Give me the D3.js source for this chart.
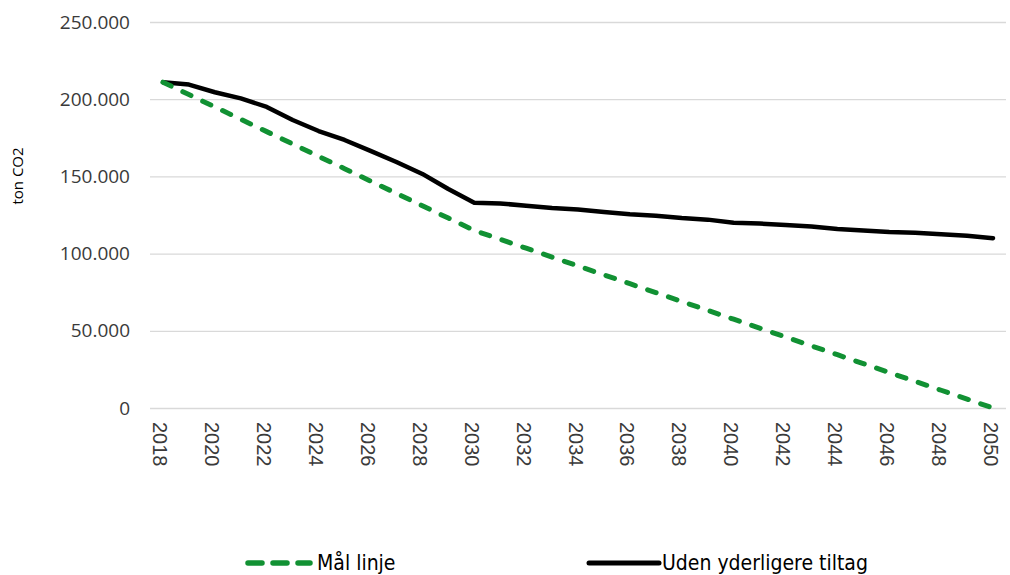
<!DOCTYPE html>
<html>
<head>
<meta charset="utf-8">
<script src="https://cdn.jsdelivr.net/npm/d3@7"></script>
<style>
  body { margin: 0; background: #fff; }
  svg { display: block; }
</style>
</head>
<body>
<svg id="chart"></svg>
<script>
var years = ["2018","2019","2020","2021","2022","2023","2024","2025","2026","2027","2028",
  "2029","2030","2031","2032","2033","2034","2035","2036","2037","2038","2039","2040",
  "2041","2042","2043","2044","2045","2046","2047","2048","2049","2050"];

// Mål linje (target line)
var maalLinje = [211000,203000,195000,187000,179000,171000,163000,155000,147000,139000,131000,
  123000,115000,109250,103500,97750,92000,86250,80500,74750,69000,63250,57500,
  51750,46000,40250,34500,28750,23000,17250,11500,5750,0];

// Uden yderligere tiltag
var udenTiltag = [211000,209500,204500,200500,195000,186500,179400,173600,166500,159300,151600,
  141800,133000,132500,131000,129500,128500,127000,125500,124500,123000,122000,120000,
  119500,118500,117500,116000,115000,114000,113500,112500,111500,110000];

var yTicks = [0,50000,100000,150000,200000,250000];
var seriesNames = ["Mål linje","Uden yderligere tiltag"];
var seriesColors = ["#119133","#000000"];

var width = 1010;
var height = 575;
var plotLeft = 150, plotRight = 1006, plotTop = 22, plotBottom = 408;

var svg = d3.select("#chart")
            .attr("width",width)
            .attr("height",height)

var x = d3.scalePoint()
          .domain(years)
          .range([plotLeft,plotRight])
          .padding(0.5);

var y = d3.scaleLinear()
          .domain([0,250000])
          .range([plotBottom,plotTop]);

var fmt = function(d){
  return d3.format(",")(d).replace(/,/g,".");
}

// gridlines + y labels
var yAxis = d3.axisLeft(y)
              .tickValues(yTicks)
              .tickSize(-(plotRight-plotLeft))
              .tickPadding(20)
              .tickFormat(fmt);

var gy = svg.append("g")
            .attr("transform","translate(" + plotLeft + ",0)")
            .call(yAxis);
gy.select(".domain").remove();
gy.selectAll(".tick line")
  .attr("stroke","#d9d9d9")
  .attr("stroke-width",1.3);
gy.selectAll(".tick text")
  .attr("fill","#3a3a3a")
  .attr("font-family","'Open Sans', sans-serif")
  .attr("font-size",19);

// x labels, every second year
var xAxis = d3.axisBottom(x)
              .tickValues(years.filter(function(d,i){ return i % 2 == 0; }))
              .tickSize(0);

var gx = svg.append("g")
            .attr("transform","translate(0," + plotBottom + ")")
            .call(xAxis);
gx.select(".domain").remove();
gx.selectAll(".tick text")
  .attr("fill","#3a3a3a")
  .attr("font-family","'Liberation Sans', Arial, sans-serif")
  .attr("font-size",20)
  .attr("text-anchor","start")
  .attr("dy","0.35em")
  .attr("transform","translate(0,14) rotate(90)");

// y axis title
svg.append("text")
   .text("ton CO2")
   .attr("transform","translate(23,176) rotate(-90)")
   .attr("text-anchor","middle")
   .attr("fill","#000")
   .attr("font-family","'Open Sans', sans-serif")
   .attr("font-size",15);

var line = d3.line()
             .x(function(d,i){ return x(years[i]); })
             .y(function(d){ return y(d); });

svg.append("path")
   .datum(udenTiltag)
   .attr("d",line)
   .attr("fill","none")
   .attr("stroke",seriesColors[1])
   .attr("stroke-width",4.5)
   .attr("stroke-linejoin","round")
   .attr("stroke-linecap","round");

svg.append("path")
   .datum(maalLinje)
   .attr("d",line)
   .attr("fill","none")
   .attr("stroke",seriesColors[0])
   .attr("stroke-width",5)
   .attr("stroke-dasharray","9,13")
   .attr("stroke-linecap","round");

// legend
var legend = [
  {name: seriesNames[0], color: seriesColors[0], x1: 248, x2: 310, dash: "14,11", w: 5.5, tx: 317},
  {name: seriesNames[1], color: seriesColors[1], x1: 589, x2: 659, dash: null, w: 5, tx: 662}
];

var lg = svg.selectAll(".legend")
            .data(legend)
            .enter()
            .append("g")
            .attr("class","legend");

lg.append("line")
  .attr("x1",function(d){ return d.x1; })
  .attr("x2",function(d){ return d.x2; })
  .attr("y1",563)
  .attr("y2",563)
  .attr("stroke",function(d){ return d.color; })
  .attr("stroke-width",function(d){ return d.w; })
  .attr("stroke-dasharray",function(d){ return d.dash; })
  .attr("stroke-linecap","round");

lg.append("text")
  .text(function(d){ return d.name; })
  .attr("x",function(d){ return d.tx; })
  .attr("y",563)
  .attr("dy","0.35em")
  .attr("fill","#000")
  .attr("font-family","'Liberation Sans Narrow', 'DejaVu Sans Condensed', sans-serif")
  .attr("font-size",21);
</script>
</body>
</html>
